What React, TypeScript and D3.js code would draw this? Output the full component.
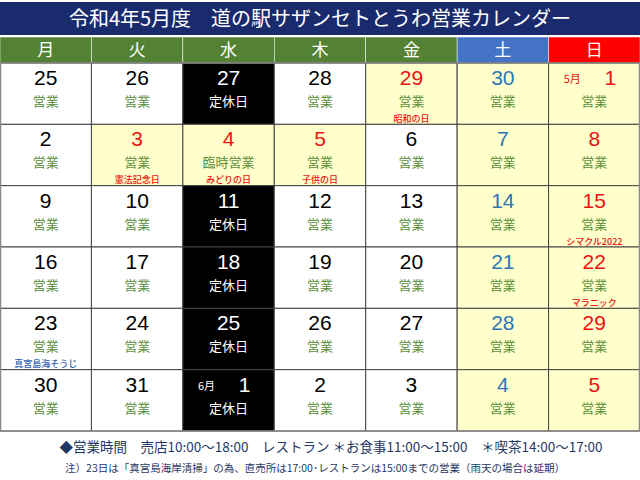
import React from 'react'
import * as d3 from 'd3'

// calendar data
const title = '令和4年5月度　道の駅サザンセトとうわ営業カレンダー'
const weekdays = ['月', '火', '水', '木', '金', '土', '日']
const headerColors = ['#548235', '#548235', '#548235', '#548235', '#548235', '#4472c4', '#ff0000']
const weeks = [
  [25, 26, 27, 28, 29, 30, 1],
  [2, 3, 4, 5, 6, 7, 8],
  [9, 10, 11, 12, 13, 14, 15],
  [16, 17, 18, 19, 20, 21, 22],
  [23, 24, 25, 26, 27, 28, 29],
  [30, 31, 1, 2, 3, 4, 5],
]
// "row-col" keys
const closedDays = ['0-2', '2-2', '3-2', '4-2', '5-2']
const holidays = ['0-4', '1-1', '1-2', '1-3']
const specialDays: { [k: string]: string } = { '1-2': '臨時営業' }
const monthPrefix: { [k: string]: string } = { '0-6': '5月', '5-2': '6月' }
const notes: { [k: string]: string } = {
  '0-4': '昭和の日',
  '1-1': '憲法記念日',
  '1-2': 'みどりの日',
  '1-3': '子供の日',
  '2-6': 'シマクル2022',
  '3-6': 'マラニック',
  '4-0': '真宮島海そうじ',
}
const noteColors: { [k: string]: string } = { '4-0': '#2f5fb3' }
const footer1 = '◆営業時間　売店10:00～18:00　レストラン ＊お食事11:00～15:00　＊喫茶14:00～17:00'
const footer2 = '注）23日は「真宮島海岸清掃」の為、直売所は17:00･レストランは15:00までの営業（雨天の場合は延期）'

const W = 640
const H = 480
const font = '"Noto Sans CJK JP", sans-serif'
const numFont = '"Liberation Sans", Arial, sans-serif'

export default function App() {
  const x = d3.scaleBand<number>().domain(d3.range(7)).range([0, W])
  const y = d3.scaleBand<number>().domain(d3.range(6)).range([63, 431])
  const cw = x.bandwidth()
  const rh = y.bandwidth()

  const cells: any[] = []
  weeks.forEach((week, r) => {
    week.forEach((day, c) => {
      const key = r + '-' + c
      const closed = closedDays.includes(key)
      const holiday = holidays.includes(key)
      const yellow = !closed && (c >= 5 || holiday)
      const bg = closed ? '#000000' : yellow ? '#ffffcc' : '#ffffff'
      let numColor = '#000000'
      if (closed) numColor = '#ffffff'
      else if (c === 6 || holiday) numColor = '#ee1111'
      else if (c === 5) numColor = '#2e75b6'
      const status = closed ? '定休日' : specialDays[key] || '営業'
      const prefix = monthPrefix[key]
      const cx = x(c)! + cw / 2
      const top = y(r)!
      cells.push(
        <g key={key}>
          <rect x={x(c)} y={top} width={cw} height={rh} fill={bg} stroke="#444" strokeWidth={1} />
          {prefix ? (
            <>
              <text x={cx - 22} y={top + 20} fontSize={11} fontFamily={font} fill={numColor} textAnchor="middle">{prefix}</text>
              <text x={cx + 16} y={top + 22} fontSize={21} fontFamily={numFont} fill={numColor} textAnchor="middle">{day}</text>
            </>
          ) : (
            <text x={cx} y={top + 22} fontSize={21} fontFamily={numFont} fill={numColor} textAnchor="middle">{day}</text>
          )}
          <text x={cx} y={top + 43} fontSize={13} fontFamily={font} fill={closed ? '#ffffff' : '#5b8f3a'} textAnchor="middle">{status}</text>
          {notes[key] && (
            <text x={cx} y={top + 59} fontSize={9} fontFamily={font} fontWeight={500} fill={noteColors[key] || '#ee1111'} textAnchor="middle">{notes[key]}</text>
          )}
        </g>
      )
    })
  })

  return (
    <svg width={W} height={H} style={{ position: 'absolute', left: 0, top: 0, background: '#fff' }}>
      <rect x={0} y={2} width={W} height={33} fill="#1a2b6d" />
      <text x={W / 2} y={26} fontSize={20} fontFamily={font} fill="#fff" textAnchor="middle">{title}</text>
      {weekdays.map((d, i) => (
        <g key={d}>
          <rect x={x(i)} y={37} width={cw} height={26} fill={headerColors[i]} stroke="#fff" strokeWidth={0.5} />
          <text x={x(i)! + cw / 2} y={56} fontSize={17} fontFamily={font} fill="#fff" textAnchor="middle">{d}</text>
        </g>
      ))}
      {cells}
      <rect x={0.5} y={63} width={W - 1} height={368} fill="none" stroke="#888" strokeWidth={1.5} />
      <text x={331} y={452} fontSize={13.5} fontFamily={font} fill="#1f3864" textAnchor="middle">{footer1}</text>
      <text x={315} y={472} fontSize={10.5} fontFamily={font} fill="#1f3864" textAnchor="middle">{footer2}</text>
    </svg>
  )
}
